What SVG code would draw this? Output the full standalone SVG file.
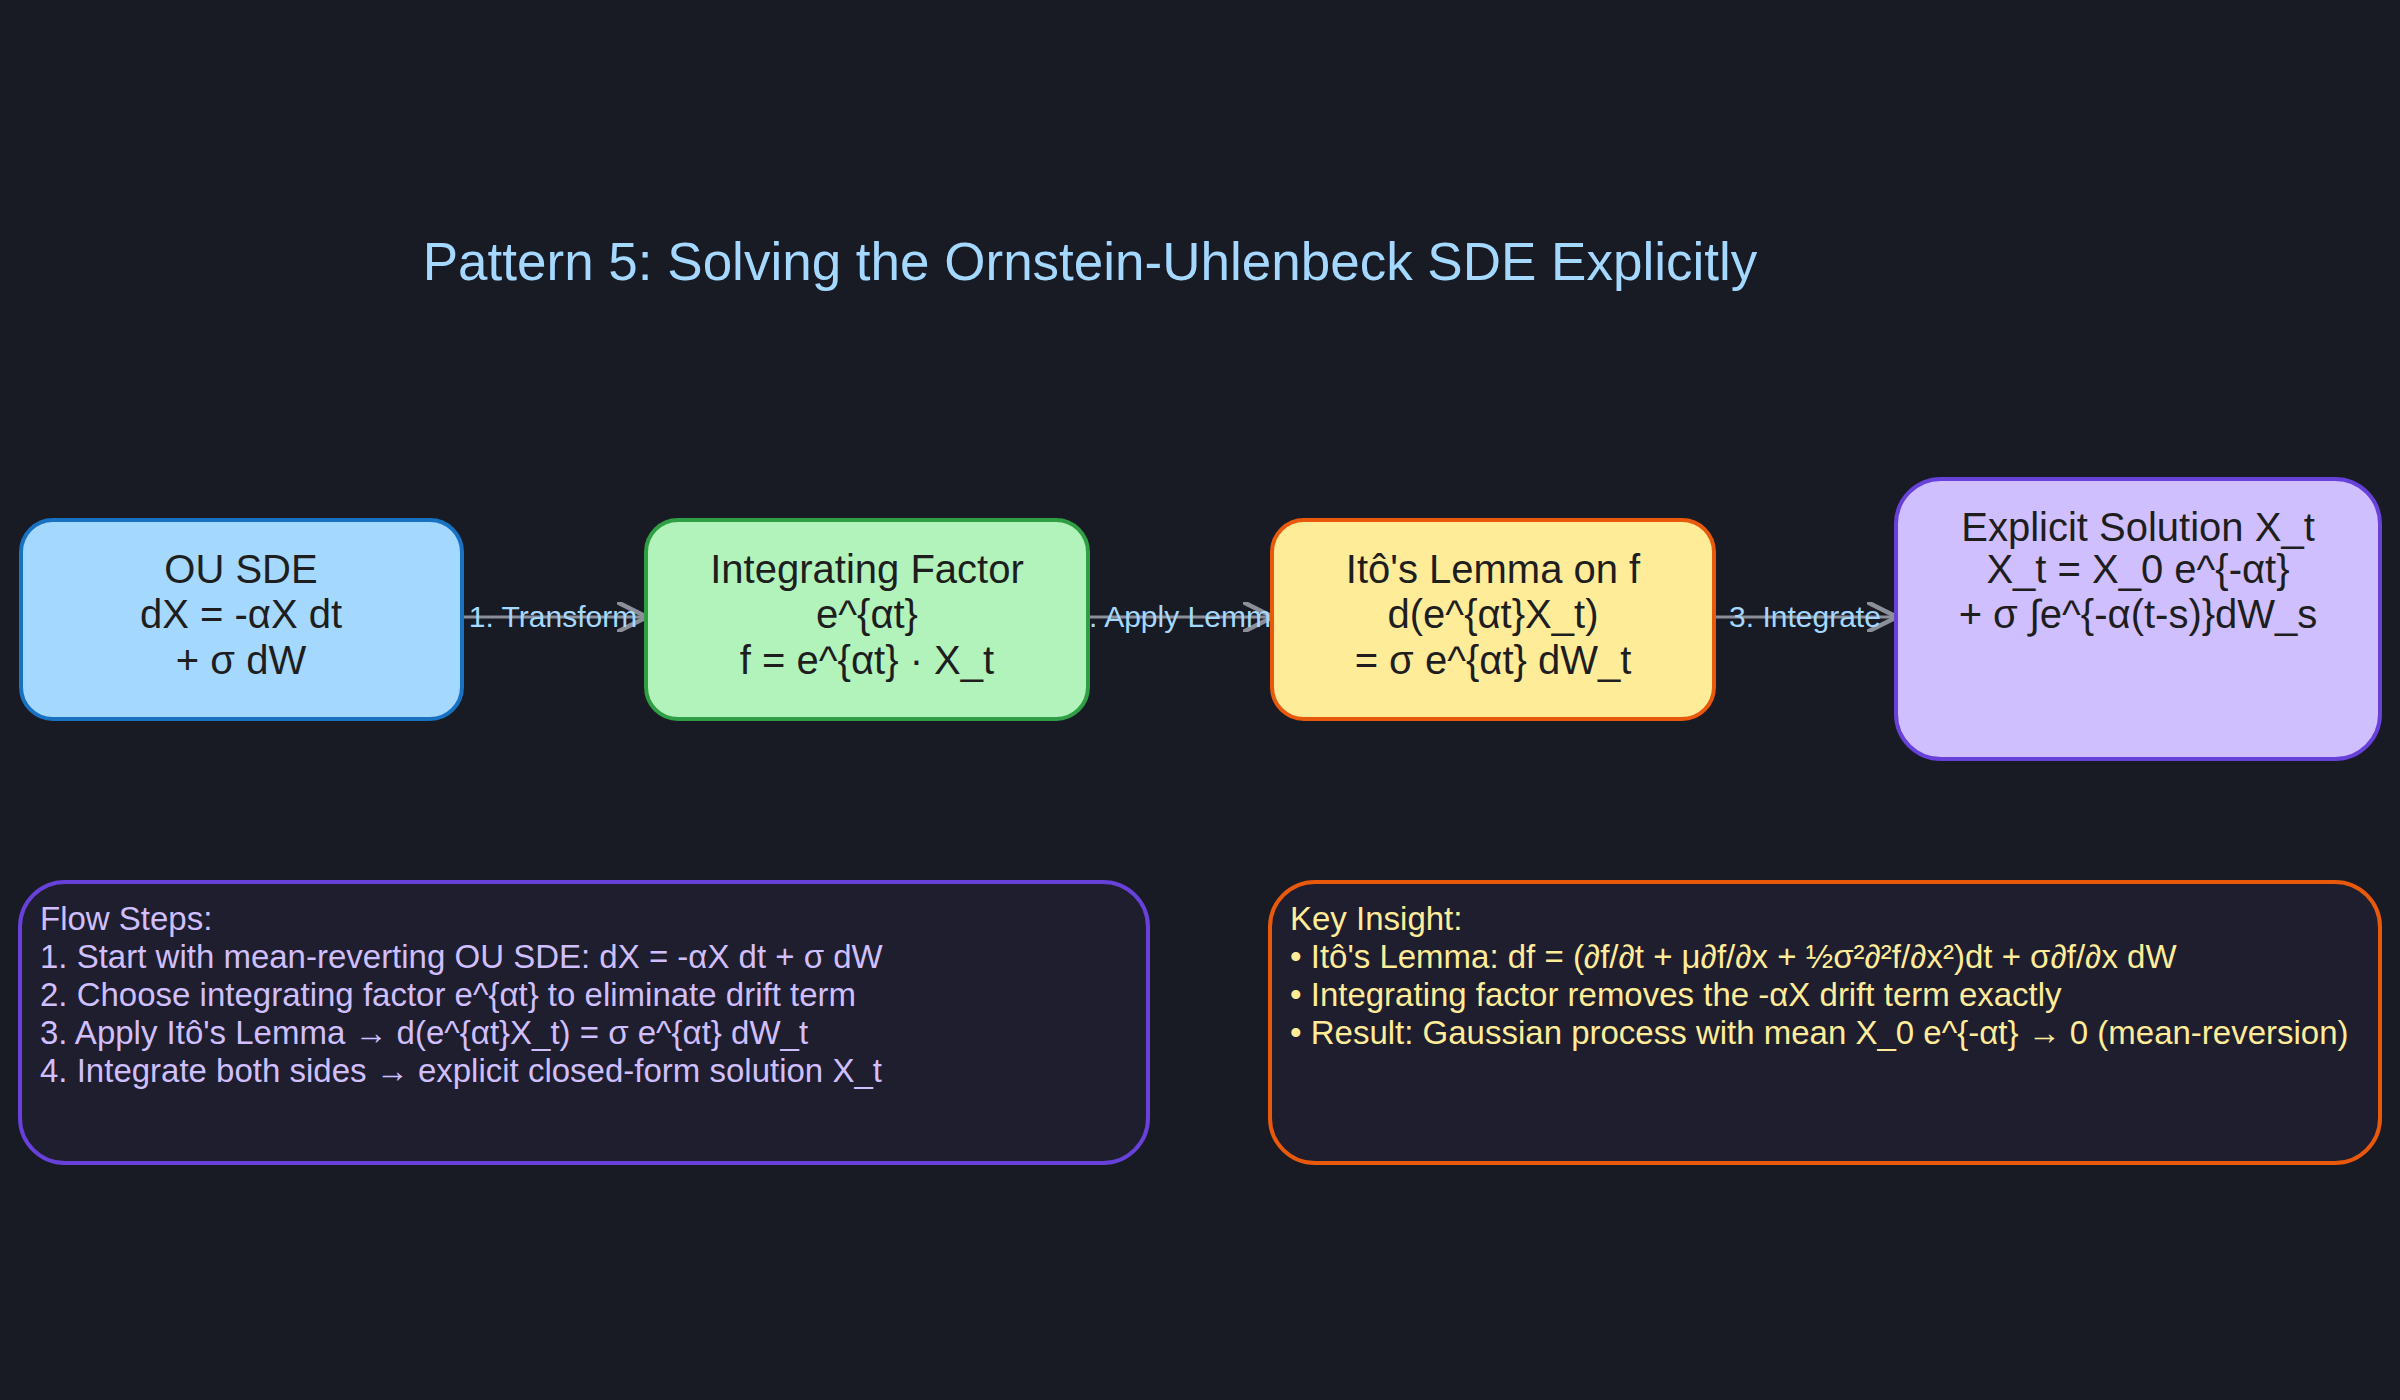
<svg xmlns="http://www.w3.org/2000/svg" width="2400" height="1400" viewBox="0 0 2400 1400">
<defs>
<style>
text{font-family:"Liberation Sans","Noto Sans",sans-serif}
.n{font-size:40px;fill:#1e1e1e;text-anchor:middle}
.e{font-size:30px;fill:#a5d8ff;text-anchor:middle}
.f{font-size:33px;fill:#d0bfff}
.k{font-size:33px;fill:#ffec99}
.c{stroke:#8a8f99;stroke-width:3;fill:none}
</style>
<marker id="a" markerWidth="10" markerHeight="10" refX="9" refY="5" orient="auto"><path d="M0,0 L10,5 L0,10" fill="none" stroke="#8a8f99" stroke-width="1.5"/></marker>
</defs>
<rect width="2400" height="1400" fill="#181a24"/>
<text x="1090" y="280" font-size="53" fill="#a5d8ff" text-anchor="middle">Pattern 5: Solving the Ornstein-Uhlenbeck SDE Explicitly</text>
<g id="edges">
<line class="c" x1="462" y1="617" x2="644" y2="617" marker-end="url(#a)"/>
<line class="c" x1="1088" y1="617" x2="1270" y2="617" marker-end="url(#a)"/>
<line class="c" x1="1714" y1="617" x2="1894" y2="617" marker-end="url(#a)"/>
<text class="e" x="553" y="627">1. Transform</text>
<text class="e" x="1180" y="627">2. Apply Lemma</text>
<text class="e" x="1805" y="627">3. Integrate</text>
</g>
<g id="n1"><rect x="21" y="520" width="441" height="199" rx="32" fill="#a5d8ff" stroke="#1971c2" stroke-width="4"/>
<text class="n" x="241" y="583">OU SDE</text><text class="n" x="241" y="628">dX = -αX dt</text><text class="n" x="241" y="674">+ σ dW</text></g>
<g id="n2"><rect x="646" y="520" width="442" height="199" rx="32" fill="#b2f2bb" stroke="#2f9e44" stroke-width="4"/>
<text class="n" x="867" y="583">Integrating Factor</text><text class="n" x="867" y="628">e^{αt}</text><text class="n" x="867" y="674">f = e^{αt} · X_t</text></g>
<g id="n3"><rect x="1272" y="520" width="442" height="199" rx="32" fill="#ffec99" stroke="#e8590c" stroke-width="4"/>
<text class="n" x="1493" y="583">Itô's Lemma on f</text><text class="n" x="1493" y="628">d(e^{αt}X_t)</text><text class="n" x="1493" y="674">= σ e^{αt} dW_t</text></g>
<g id="n4"><rect x="1896" y="479" width="484" height="280" rx="45" fill="#d0bfff" stroke="#6741d9" stroke-width="4"/>
<text class="n" x="2138" y="541">Explicit Solution X_t</text><text class="n" x="2138" y="583">X_t = X_0 e^{-αt}</text><text class="n" x="2138" y="628">+ σ ∫e^{-α(t-s)}dW_s</text></g>
<g id="flow"><rect x="20" y="882" width="1128" height="281" rx="45" fill="#1e1e2e" stroke="#6741d9" stroke-width="4"/>
<text class="f" x="40" y="930">Flow Steps:</text>
<text class="f" x="40" y="968">1. Start with mean-reverting OU SDE: dX = -αX dt + σ dW</text>
<text class="f" x="40" y="1006">2. Choose integrating factor e^{αt} to eliminate drift term</text>
<text class="f" x="40" y="1044">3. Apply Itô's Lemma → d(e^{αt}X_t) = σ e^{αt} dW_t</text>
<text class="f" x="40" y="1082">4. Integrate both sides → explicit closed-form solution X_t</text></g>
<g id="key"><rect x="1270" y="882" width="1110" height="281" rx="45" fill="#1e1e2e" stroke="#e8590c" stroke-width="4"/>
<text class="k" x="1290" y="930">Key Insight:</text>
<text class="k" x="1290" y="968">• Itô's Lemma: df = (∂f/∂t + μ∂f/∂x + ½σ²∂²f/∂x²)dt + σ∂f/∂x dW</text>
<text class="k" x="1290" y="1006">• Integrating factor removes the -αX drift term exactly</text>
<text class="k" x="1290" y="1044">• Result: Gaussian process with mean X_0 e^{-αt} → 0 (mean-reversion)</text></g>
</svg>
